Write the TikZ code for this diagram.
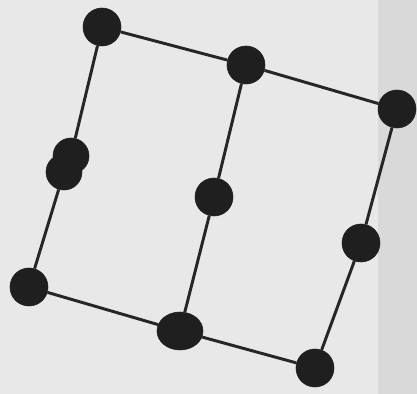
\documentclass[tikz,border=0pt]{standalone}
\usepackage{tikz}
\usetikzlibrary{shapes.geometric}
\tikzset{
  gridedge/.style={line width=2.1pt, black!85},
  vertexdot/.style={circle, draw=black!88, fill=black!88, line width=0.4pt, minimum size=0.95cm, inner sep=0pt},
  photoback/.style={fill=gray!18, draw=none}
}

\begin{document}
\begin{tikzpicture}[x=0.025cm, y=-0.025cm]
      \fill[photoback] (0,0) rectangle (417,394);
      \fill[gray!30] (378,0) rectangle (417,394);
      \useasboundingbox (0,0) rectangle (417,394);
      % corners and edge midpoints of the grid
      \node[vertexdot] (tl) at (102,27) {};
      \node[vertexdot] (tm) at (246,65) {};
      \node[vertexdot] (tr) at (397,109) {};
      \node[vertexdot, minimum size=0.9cm] (lm) at (64,172) {};
      \node[vertexdot, minimum size=0.9cm] (lmb) at (71,156) {};
      \node[vertexdot] (ce) at (214,197) {};
      \node[vertexdot] (rm) at (361,243) {};
      \node[vertexdot] (bl) at (29,287) {};
      \node[vertexdot, ellipse, minimum width=1.15cm, minimum height=0.95cm] (bm) at (180,331) {};
      \node[vertexdot] (br) at (315,368) {};
      \draw[gridedge] (tl) -- (tm) -- (tr);
      \draw[gridedge] (bl) -- (bm) -- (br);
      \draw[gridedge] (tl) -- (lmb);
      \draw[gridedge] (lm) -- (bl);
      \draw[gridedge] (tm) -- (ce) -- (bm);
      \draw[gridedge] (tr) -- (rm) -- (br);
    \end{tikzpicture}
\end{document}
